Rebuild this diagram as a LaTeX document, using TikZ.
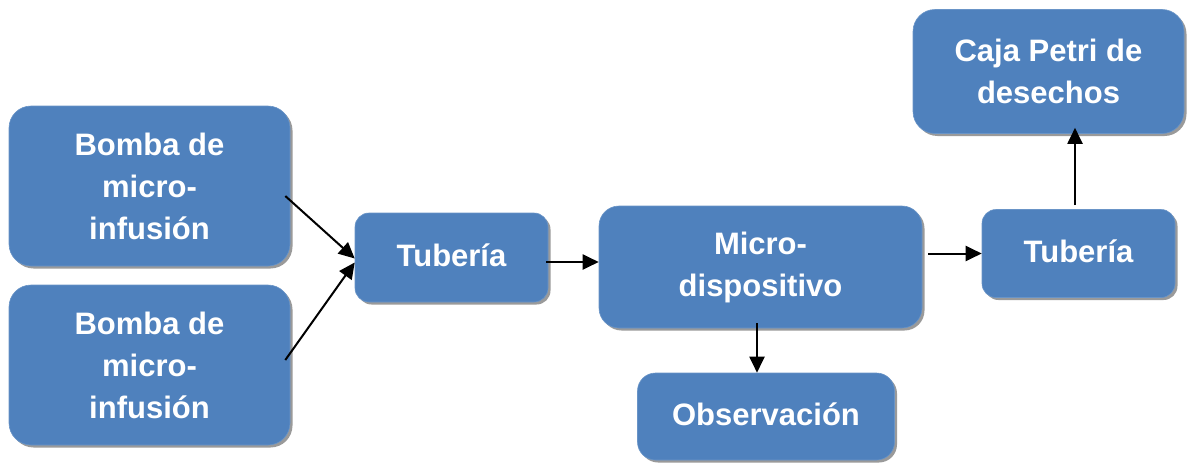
\documentclass[tikz,border=0pt]{standalone}
\usepackage{fontspec}
\setmainfont{Liberation Sans}
\usetikzlibrary{arrows.meta,shadows}
\definecolor{boxblue}{HTML}{4F81BD}
\definecolor{shadowgray}{HTML}{9A9A9A}
\tikzset{
  block/.style={rectangle, rounded corners=#1, fill=boxblue, draw=boxblue!85!white,
    line width=0.6pt, text=white, align=center, inner sep=0pt,
    font=\bfseries\fontsize{31}{42}\selectfont,
    drop shadow={shadow xshift=2.5pt, shadow yshift=-2.5pt, fill=shadowgray, opacity=1}},
  block/.default=20pt,
  arr/.style={line width=2pt, -{Triangle[length=16pt,width=15pt]}}
}
\begin{document}
\begin{tikzpicture}[x=1pt,y=-1pt]
\useasboundingbox (0,0) rectangle (1188,463);
% process blocks
\node[block=22pt, minimum width=281pt, minimum height=160pt] (b1) at (149.5,186) {Bomba de\\micro-\\infusión};
\node[block=22pt, minimum width=281pt, minimum height=160pt] (b2) at (149.5,365) {Bomba de\\micro-\\infusión};
\node[block=14pt, minimum width=193pt, minimum height=89pt] (t1) at (451.5,257.5) {\raisebox{5pt}{Tubería}};
\node[block=20pt, minimum width=323pt, minimum height=122pt] (m) at (760.5,267) {Micro-\\dispositivo};
\node[block=18pt, minimum width=257pt, minimum height=87pt] (o) at (766,416.5) {\raisebox{5pt}{Observación}};
\node[block=14pt, minimum width=193pt, minimum height=88pt] (t2) at (1078.5,253.5) {\raisebox{5pt}{Tubería}};
\node[block=22pt, minimum width=271pt, minimum height=124pt] (c) at (1048.5,71.5) {Caja Petri de\\desechos};
% flow arrows
\draw[arr] ([xshift=-5pt,yshift=-10pt]b1.east) -- ([yshift=-1pt]t1.west);
\draw[arr] ([xshift=-5pt,yshift=5pt]b2.east) -- ([yshift=-5pt]t1.west);
\draw[arr] ([xshift=-2pt,yshift=-4.5pt]t1.east) coordinate (s1) -- (s1 -| m.west);
\draw[arr] ([xshift=-3.5pt,yshift=5pt]m.south) coordinate (s2) -- (s2 |- o.north);
\draw[arr] ([xshift=6pt]m.east |- t2.west) -- (t2.west);
\draw[arr] ([xshift=-3.5pt,yshift=4pt]t2.north) coordinate (s3) -- ([yshift=6pt]s3 |- c.south);
\end{tikzpicture}
\end{document}
